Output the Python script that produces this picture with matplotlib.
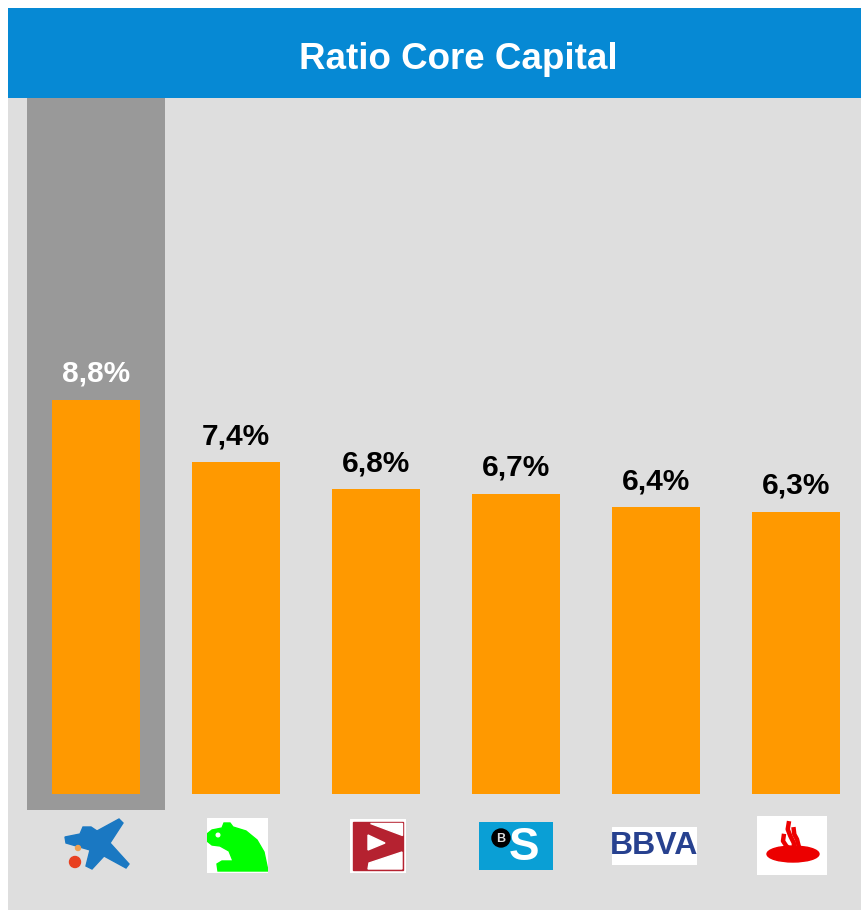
import numpy as np
import matplotlib.pyplot as plt
from matplotlib.patches import Rectangle, Polygon, Ellipse, Circle

plt.rcParams['font.family'] = ['Liberation Sans', 'DejaVu Sans']

# datos
bancos = ['CaixaBank', 'Caja Madrid', 'Popular', 'Sabadell', 'BBVA', 'Santander']
core_capital = [8.8, 7.4, 6.8, 6.7, 6.4, 6.3]
etiquetas = ['8,8%', '7,4%', '6,8%', '6,7%', '6,4%', '6,3%']
destacado = 0  # CaixaBank

W, H = 862, 910
AZUL = '#0689D4'
GRIS = '#DEDEDE'
GRIS_OSC = '#999999'
NARANJA = '#FF9900'

fig = plt.figure(figsize=(W / 100, H / 100), dpi=100)
fig.patch.set_facecolor('white')


def px_axes(x0, y0, w, h):
    ax = fig.add_axes([x0 / W, 1 - (y0 + h) / H, w / W, h / H])
    ax.set_xlim(x0, x0 + w)
    ax.set_ylim(y0 + h, y0)
    ax.axis('off')
    return ax


# ---- barra de titulo ----
tax = fig.add_axes([8 / W, 1 - 98 / H, 860 / W, 90 / H])
tax.set_facecolor(AZUL)
tax.set_xticks([])
tax.set_yticks([])
for s in tax.spines.values():
    s.set_visible(False)
fig.text(458 / W, 1 - 69 / H, 'Ratio Core Capital', color='white',
         fontsize=26.5, fontweight='bold', ha='center', va='baseline')

# ---- grafico de barras ----
ax = fig.add_axes([8 / W, -6 / H, 860 / W, (910 - 98 + 6) / H])
ax.set_facecolor(GRIS)
px_unit = 44.8
base_px = 794
ax.set_xlim((8 - 96) / 140, (868 - 96) / 140)
ax.set_ylim((base_px - 916) / px_unit, (base_px - 98) / px_unit)
ax.set_xticks([])
ax.set_yticks([])
for s in ax.spines.values():
    s.set_visible(False)

x = np.arange(len(bancos))
ylo, yhi = ax.get_ylim()
fondo_bottom = (base_px - 810) / px_unit
ax.bar(destacado, yhi - fondo_bottom, bottom=fondo_bottom, width=0.986,
       color=GRIS_OSC, zorder=1)
ax.bar(x, core_capital, width=0.63, color=NARANJA, zorder=2)

for i, (v, t) in enumerate(zip(core_capital, etiquetas)):
    ax.annotate(t, (i, v), xytext=(0, 13), textcoords='offset points',
                ha='center', va='baseline', fontsize=21.5, fontweight='bold',
                color='white' if i == destacado else 'black', zorder=3)

# ---- logos (aproximados) ----
# CaixaBank
a1 = px_axes(60, 815, 75, 60)
a1.add_patch(Polygon([(65, 837), (80, 834), (83, 827), (91, 827),
                      (97, 831), (119, 819), (123, 823), (110, 843),
                      (129, 864), (126, 868), (104, 856), (92, 869),
                      (86, 866), (90, 850), (66, 843)], closed=True,
                     color='#1A78C2'))
a1.add_patch(Circle((78, 848), 2.5, color='#F0A050'))
a1.add_patch(Circle((75, 862), 5.5, color='#E84020'))

# Caja Madrid
a2 = px_axes(207, 818, 61, 55)
a2.add_patch(Rectangle((207, 818), 61, 55, color='white'))
a2.add_patch(Polygon([(207, 834), (212, 830), (222, 828), (224, 823), (230, 823),
                      (233, 827), (246, 831), (257, 840), (264, 852), (268, 871),
                      (218, 871), (217, 864), (222, 861), (233, 861), (229, 851),
                      (220, 846), (212, 845), (207, 841)], closed=True,
                     color='#00FF00'))
a2.add_patch(Circle((218, 835), 1.8, color='white'))

# Popular
a3 = px_axes(350, 819, 56, 54)
a3.add_patch(Rectangle((350, 819), 56, 54, color='white'))
a3.add_patch(Rectangle((353, 822), 50, 48, color='#B52230'))
for pts in ([(370, 823), (402, 823), (402, 835)],
            [(368, 835), (385, 843), (368, 850)],
            [(369, 863), (402, 852), (402, 869), (368, 869)]):
    a3.add_patch(Polygon(pts, closed=True, color='white'))

# Sabadell
a4 = px_axes(479, 822, 74, 48)
a4.add_patch(Rectangle((479, 822), 74, 48, color='#0A9FD5'))
a4.add_patch(Circle((501, 838), 9, color='black'))
a4.text(501, 838.5, 'B', color='#DDDDDD', fontsize=9, fontweight='bold',
        ha='center', va='center')
a4.text(524, 848, 'S', color='white', fontsize=33, fontweight='bold',
        ha='center', va='center')

# BBVA
a5 = px_axes(612, 827, 85, 38)
a5.add_patch(Rectangle((612, 827), 85, 38, color='white'))
a5.text(654.5, 846, 'BBVA', color='#27418F', fontsize=23, fontweight='bold',
        family=['Liberation Sans Narrow', 'Liberation Sans'],
        ha='center', va='center')

# Santander
a6 = px_axes(757, 816, 70, 59)
a6.add_patch(Rectangle((757, 816), 70, 59, color='white'))
a6.add_patch(Ellipse((793, 854), 52, 16, color='#EC0000'))
rojo = '#EC0000'
a6.plot([783.7, 783, 786.3, 790.3], [836, 841, 846, 849.3], color=rojo, lw=3.2)
a6.plot([788.7, 787.7, 790.3, 793.7, 794.3], [823.3, 829.3, 836, 842.7, 847.7],
        color=rojo, lw=3.2)
a6.plot([793.7, 794.3, 797, 798.7], [829.3, 834.3, 839.3, 846], color=rojo, lw=3.2)

fig.savefig('out.png', dpi=100)
